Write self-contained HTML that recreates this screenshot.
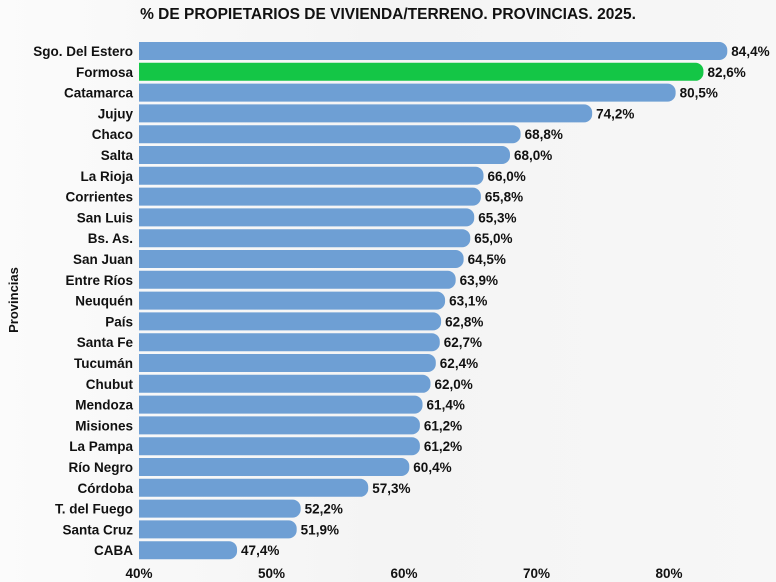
<!DOCTYPE html>
<html><head><meta charset="utf-8"><style>
html,body{margin:0;padding:0;background:#f7f7f7;}
#wrap{position:relative;width:776px;height:582px;overflow:hidden;background:linear-gradient(90deg,#fbfbfb 0%,#f4f4f4 50%,#f7f7f7 100%);font-family:"Liberation Sans",sans-serif;}
text{font-family:"Liberation Sans",sans-serif;font-weight:bold;fill:#111;}
</style></head><body>
<div id="wrap">
<svg id="chart" width="776" height="582"></svg>
</div>
<script>
const categories=["Sgo. Del Estero","Formosa","Catamarca","Jujuy","Chaco","Salta","La Rioja","Corrientes","San Luis","Bs. As.","San Juan","Entre Ríos","Neuquén","País","Santa Fe","Tucumán","Chubut","Mendoza","Misiones","La Pampa","Río Negro","Córdoba","T. del Fuego","Santa Cruz","CABA"];
const values=[84.4,82.6,80.5,74.2,68.8,68.0,66.0,65.8,65.3,65.0,64.5,63.9,63.1,62.8,62.7,62.4,62.0,61.4,61.2,61.2,60.4,57.3,52.2,51.9,47.4];
const ticks=[40,50,60,70,80];
const highlight="Formosa";
const NS="http://www.w3.org/2000/svg";
const svg=document.getElementById('chart');
const x=v=>139+(v-40)*13.25;
const y=i=>51+i*20.8;
function mk(tag,attrs){const e=document.createElementNS(NS,tag);for(const k in attrs)e.setAttribute(k,attrs[k]);svg.appendChild(e);return e;}
const t=mk('text',{x:388,y:19,'text-anchor':'middle','font-size':'15.5'});
t.textContent="% DE PROPIETARIOS DE VIVIENDA/TERRENO. PROVINCIAS. 2025.";


const yt=mk('text',{x:0,y:0,'text-anchor':'middle','font-size':'13',transform:'translate(18,300) rotate(-90)'});
yt.textContent="Provincias";


categories.forEach((c,i)=>{
  const cy=y(i),x0=x(40),x1=x(values[i]),h=18,r=8;
  const p=mk('path',{d:`M${x0},${cy-h/2} H${x1-r} A${r},${r} 0 0 1 ${x1},${cy-h/2+r} V${cy+h/2-r} A${r},${r} 0 0 1 ${x1-r},${cy+h/2} H${x0} Z`,fill:c===highlight?'#14c646':'#6e9fd4'});
  
  
  const l=mk('text',{x:x0-6,y:cy+5,'text-anchor':'end','font-size':'13.5'});
  l.textContent=c;
  
  
  const v=mk('text',{x:x1+4,y:cy+5,'font-size':'13.5'});
  v.textContent=values[i].toFixed(1).replace('.',',')+'%';
  
  
});
ticks.forEach(tk=>{
  const e=mk('text',{x:x(tk),y:578,'text-anchor':'middle','font-size':'13.5'});
  e.textContent=tk+'%';
  
  
});
</script>
</body></html>
